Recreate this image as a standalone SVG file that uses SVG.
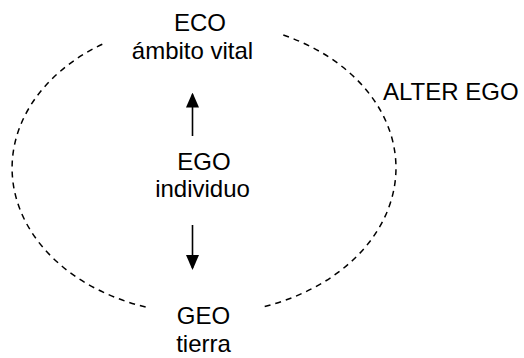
<svg xmlns="http://www.w3.org/2000/svg" width="524" height="358" viewBox="0 0 524 358">
  <style>
    .t { font-family: "Liberation Sans", Arial, sans-serif; font-size: 24px; fill: #000; text-anchor: middle; }
    .ts { font-family: "Liberation Sans", Arial, sans-serif; font-size: 24px; fill: #000; text-anchor: start; }
    .dash { fill: none; stroke: #000; stroke-width: 1.5; stroke-dasharray: 6 5; }
    .arr { fill: none; stroke: #000; stroke-width: 1.6; }
  </style>
  <defs>
    <marker id="ah" viewBox="0 0 15 13" markerWidth="15" markerHeight="13" refX="13" refY="6.5" orient="auto" markerUnits="userSpaceOnUse">
      <path d="M0,0 L15,6.5 L0,13 z" fill="#000"/>
    </marker>
  </defs>

  <g id="connectors">
    <path id="ring-left" class="dash" d="M102.3,44.2 A192,146 0 0 0 147.9,307.6"/>
    <path id="ring-right" class="dash" d="M283.3,35 A192,146 0 0 1 261.7,307.2"/>
    <line id="to-eco" class="arr" x1="192.5" y1="136" x2="192.5" y2="94.5" marker-end="url(#ah)"/>
    <line id="to-geo" class="arr" x1="192.5" y1="225" x2="192.5" y2="268" marker-end="url(#ah)"/>
  </g>

  <g id="eco">
    <text class="t" x="200" y="31">ECO</text>
    <text class="t" x="192.5" y="59">ámbito vital</text>
  </g>

  <g id="ego">
    <text class="t" x="204" y="170">EGO</text>
    <text class="t" x="202.5" y="197">individuo</text>
  </g>

  <g id="geo">
    <text class="t" x="203.5" y="324">GEO</text>
    <text class="t" x="203.5" y="352">tierra</text>
  </g>

  <g id="alter-ego">
    <text class="ts" x="383" y="100">ALTER EGO</text>
  </g>
</svg>
